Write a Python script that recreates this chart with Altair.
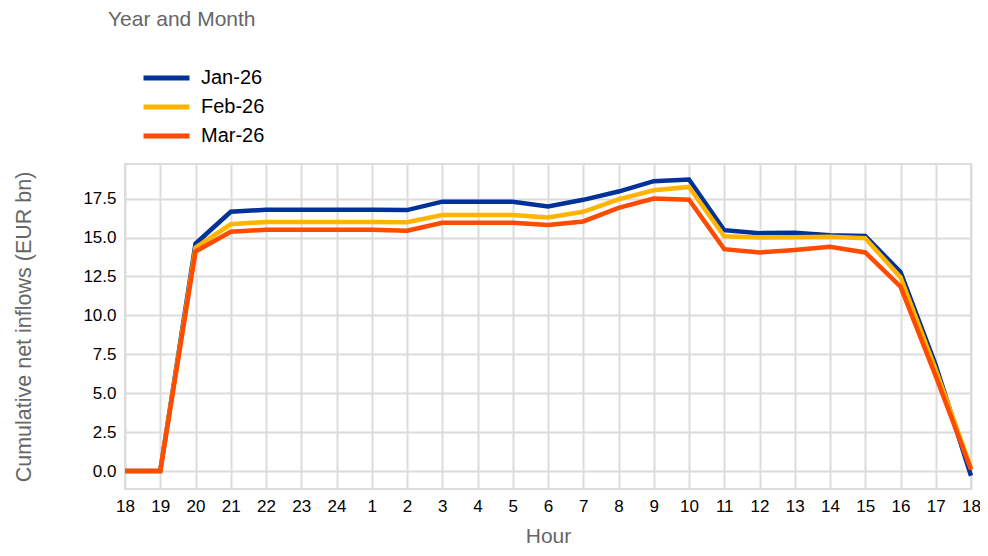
import altair as alt
import pandas as pd

hours = ["18", "19", "20", "21", "22", "23", "24", "1", "2", "3", "4", "5", "6",
         "7", "8", "9", "10", "11", "12", "13", "14", "15", "16", "17", "18"]
months = ["Jan-26", "Feb-26", "Mar-26"]
jan = [0, 0, 14.6, 16.65, 16.78, 16.78, 16.78, 16.78, 16.76, 17.3, 17.3, 17.3, 17.0,
       17.42, 17.95, 18.62, 18.72, 15.47, 15.28, 15.3, 15.15, 15.1, 12.78, 6.8, -0.3]
feb = [0, 0, 14.35, 15.85, 16.0, 16.0, 16.0, 16.0, 15.98, 16.45, 16.45, 16.45, 16.28,
       16.65, 17.45, 18.03, 18.25, 15.08, 15.0, 15.02, 15.05, 14.95, 12.45, 6.5, 0.2]
mar = [0, 0, 14.1, 15.37, 15.5, 15.5, 15.5, 15.5, 15.43, 15.95, 15.95, 15.95, 15.8,
       16.03, 16.9, 17.5, 17.42, 14.25, 14.04, 14.2, 14.4, 14.04, 11.85, 6.1, 0.1]
colors = ["#003299", "#FFB400", "#FF4B00"]

rows = []
for m, vals in zip(months, [jan, feb, mar]):
    for i, v in enumerate(vals):
        rows.append({"idx": i, "month": m, "value": v})
df = pd.DataFrame(rows)

label_expr = "[" + ",".join("'%s'" % h for h in hours) + "][datum.value]"

chart = alt.Chart(df).mark_line(strokeWidth=4.5).encode(
    x=alt.X("idx:Q", title="Hour",
            scale=alt.Scale(domain=[0, len(hours) - 1], nice=False, zero=False),
            axis=alt.Axis(values=list(range(len(hours))), labelExpr=label_expr,
                          ticks=False, domain=False, labelPadding=9,
                          labelFlush=False, labelOverlap=False, labelBound=False,
                          titlePadding=11, labelFontSize=17, labelColor="#000",
                          titleFontSize=21, titleColor="#666", titleFontWeight="normal",
                          gridColor="#dcdcdc", gridWidth=2)),
    y=alt.Y("value:Q", title="Cumulative net inflows (EUR bn)",
            scale=alt.Scale(domain=[-1.15, 19.72], nice=False, zero=False),
            axis=alt.Axis(values=[0, 2.5, 5, 7.5, 10, 12.5, 15, 17.5], format=".1f",
                          ticks=False, domain=False, labelPadding=9,
                          titlePadding=47, labelFontSize=17, labelColor="#000",
                          titleFontSize=21.5, titleColor="#666", titleFontWeight="normal",
                          gridColor="#dcdcdc", gridWidth=2)),
    color=alt.Color("month:N", title="Year and Month",
                    scale=alt.Scale(domain=months, range=colors),
                    legend=alt.Legend(orient="none", legendX=-17, legendY=-155,
                                      symbolType="stroke", symbolSize=2116,
                                      symbolStrokeWidth=5, symbolOffset=33,
                                      clipHeight=20, rowPadding=9, padding=0,
                                      titlePadding=38, titleFontSize=21,
                                      titleColor="#666", titleFontWeight="normal",
                                      labelFontSize=20, labelColor="#000",
                                      labelOffset=9)),
    order=alt.Order("idx:Q"),
).properties(
    width=846, height=325,
    autosize=alt.AutoSizeParams(type="none"),
    padding={"left": 117, "top": 156, "right": 9, "bottom": 59},
).configure(
    font="Liberation Sans",
).configure_view(
    stroke="#dcdcdc", strokeWidth=2,
)

chart.save("out.html", embed_options={"renderer": "svg", "actions": False})
